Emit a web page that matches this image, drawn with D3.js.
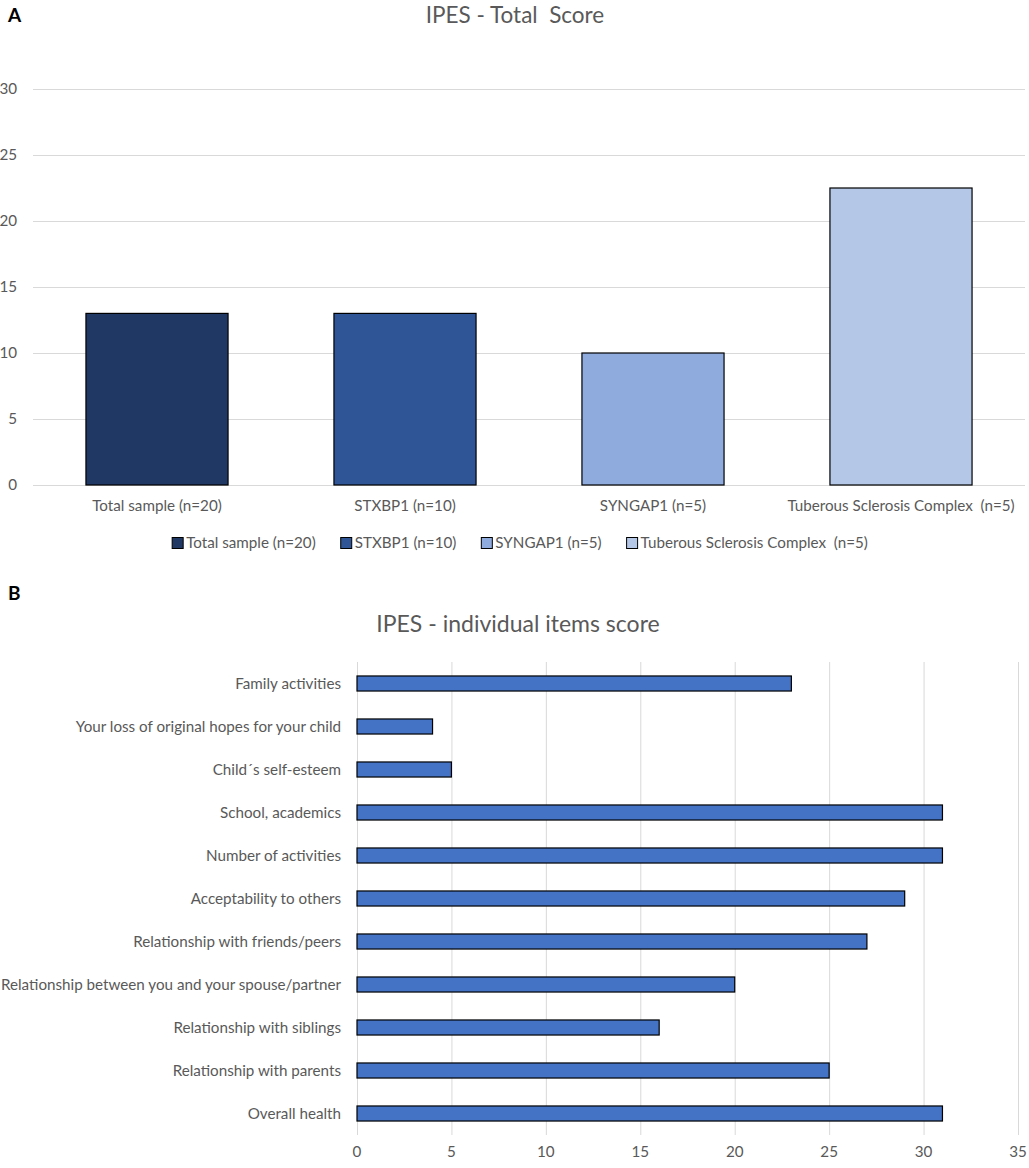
<!DOCTYPE html>
<html><head><meta charset="utf-8">
<script src="https://cdn.jsdelivr.net/npm/d3@7"></script>
<style>body{margin:0;background:#fff}svg{display:block}text{font-family:Lato,"Open Sans",sans-serif}</style>
</head><body>
<svg id="c" width="1029" height="1168"></svg>
<script>
// Panel A data
const groups = ["Total sample (n=20)", "STXBP1 (n=10)", "SYNGAP1 (n=5)", "Tuberous Sclerosis Complex  (n=5)"];
const totalScores = [13, 13, 10, 22.5];
const groupColors = ["#203864", "#2F5597", "#8FAADC", "#B4C7E7"];
const yTicksA = [0, 5, 10, 15, 20, 25, 30];
// Panel B data
const items = ["Family activities", "Your loss of original hopes for your child", "Child´s self-esteem",
  "School, academics", "Number of activities", "Acceptability to others", "Relationship with friends/peers",
  "Relationship between you and your spouse/partner", "Relationship with siblings", "Relationship with parents",
  "Overall health"];
const itemScores = [23, 4, 5, 31, 31, 29, 27, 20, 16, 25, 31];
const xTicksB = [0, 5, 10, 15, 20, 25, 30, 35];

const svg = d3.select("#c");
const txt = "#595959", grid = "#d9d9d9";
const fs = 15.2;

// Panel labels
svg.append("text").attr("x", 8).attr("y", 22).text("A").attr("font-family","Liberation Sans, Arial").attr("font-weight","bold").attr("font-size",19).attr("fill","#000");
svg.append("text").attr("x", 8).attr("y", 600).text("B").attr("font-family","Liberation Sans, Arial").attr("font-weight","bold").attr("font-size",19).attr("fill","#000");

// ---- Panel A ----
const xA = d3.scaleBand().domain(groups).range([33, 1025]).paddingInner(0.427).paddingOuter(0.2135);
const yA = d3.scaleLinear().domain([0, 30]).range([485, 89]);
svg.append("text").attr("x", 515).attr("y", 23).attr("text-anchor","middle").attr("font-size",22.5).attr("fill",txt).text("IPES - Total  Score").style("white-space","pre");
const gA = svg.append("g");
gA.selectAll("line.g").data(yTicksA).join("line").attr("x1",33).attr("x2",1025)
  .attr("y1",d=>yA(d)+0.5).attr("y2",d=>yA(d)+0.5).attr("stroke",grid).attr("stroke-width",1);
gA.selectAll("text.yt").data(yTicksA).join("text").attr("x",17).attr("y",d=>yA(d)).attr("dy","0.35em")
  .attr("text-anchor","end").attr("font-size",fs).attr("fill",txt).text(d=>d);
gA.selectAll("rect").data(groups).join("rect")
  .attr("x",d=>xA(d)).attr("width",xA.bandwidth())
  .attr("y",(d,i)=>yA(totalScores[i])).attr("height",(d,i)=>yA(0)-yA(totalScores[i]))
  .attr("fill",(d,i)=>groupColors[i]).attr("stroke","#000").attr("stroke-width",1.2);
gA.selectAll("text.xl").data(groups).join("text").attr("x",d=>xA(d)+xA.bandwidth()/2).attr("y",506).attr("dy","0.35em")
  .attr("text-anchor","middle").attr("font-size",fs).attr("fill",txt).text(d=>d).style("white-space","pre");

// Legend
const leg = svg.append("g");
const items_leg = leg.selectAll("g").data(groups).join("g");
items_leg.append("rect").attr("width",11).attr("height",11).attr("y",-5.5).attr("fill",(d,i)=>groupColors[i]).attr("stroke","#000").attr("stroke-width",1);
items_leg.append("text").attr("x",14).attr("dy","0.35em").attr("font-size",fs).attr("fill",txt).text(d=>d).style("white-space","pre");
let widths = [];
items_leg.each(function(){ widths.push(14 + d3.select(this).select("text").node().getComputedTextLength()); });
const gap = 25;
const totalW = d3.sum(widths) + gap*(widths.length-1);
let cx = 520 - totalW/2;
items_leg.attr("transform",(d,i)=>{ const t = `translate(${cx},543)`; cx += widths[i]+gap; return t; });

// ---- Panel B ----
const xB = d3.scaleLinear().domain([0, 35]).range([357, 1018]);
const yB = d3.scaleBand().domain(items).range([662, 1135]).paddingInner(0.65).paddingOuter(0.325);
svg.append("text").attr("x", 518).attr("y", 632).attr("text-anchor","middle").attr("font-size",23).attr("fill",txt).text("IPES - individual items score");
const gB = svg.append("g");
gB.selectAll("line").data(xTicksB).join("line").attr("y1",662).attr("y2",1135)
  .attr("x1",d=>xB(d)+0.5).attr("x2",d=>xB(d)+0.5).attr("stroke",grid).attr("stroke-width",1);
gB.selectAll("text.xt").data(xTicksB).join("text").attr("x",d=>xB(d)).attr("y",1152).attr("dy","0.35em")
  .attr("text-anchor","middle").attr("font-size",fs).attr("fill",txt).text(d=>d);
gB.selectAll("rect").data(items).join("rect")
  .attr("x",xB(0)).attr("y",d=>yB(d)).attr("height",yB.bandwidth())
  .attr("width",(d,i)=>xB(itemScores[i])-xB(0))
  .attr("fill","#4472C4").attr("stroke","#000").attr("stroke-width",1.2);
gB.selectAll("text.yl").data(items).join("text").attr("x",341).attr("y",d=>yB(d)+yB.bandwidth()/2).attr("dy","0.35em")
  .attr("text-anchor","end").attr("font-size",fs).attr("fill",txt).text(d=>d);
</script>
</body></html>
